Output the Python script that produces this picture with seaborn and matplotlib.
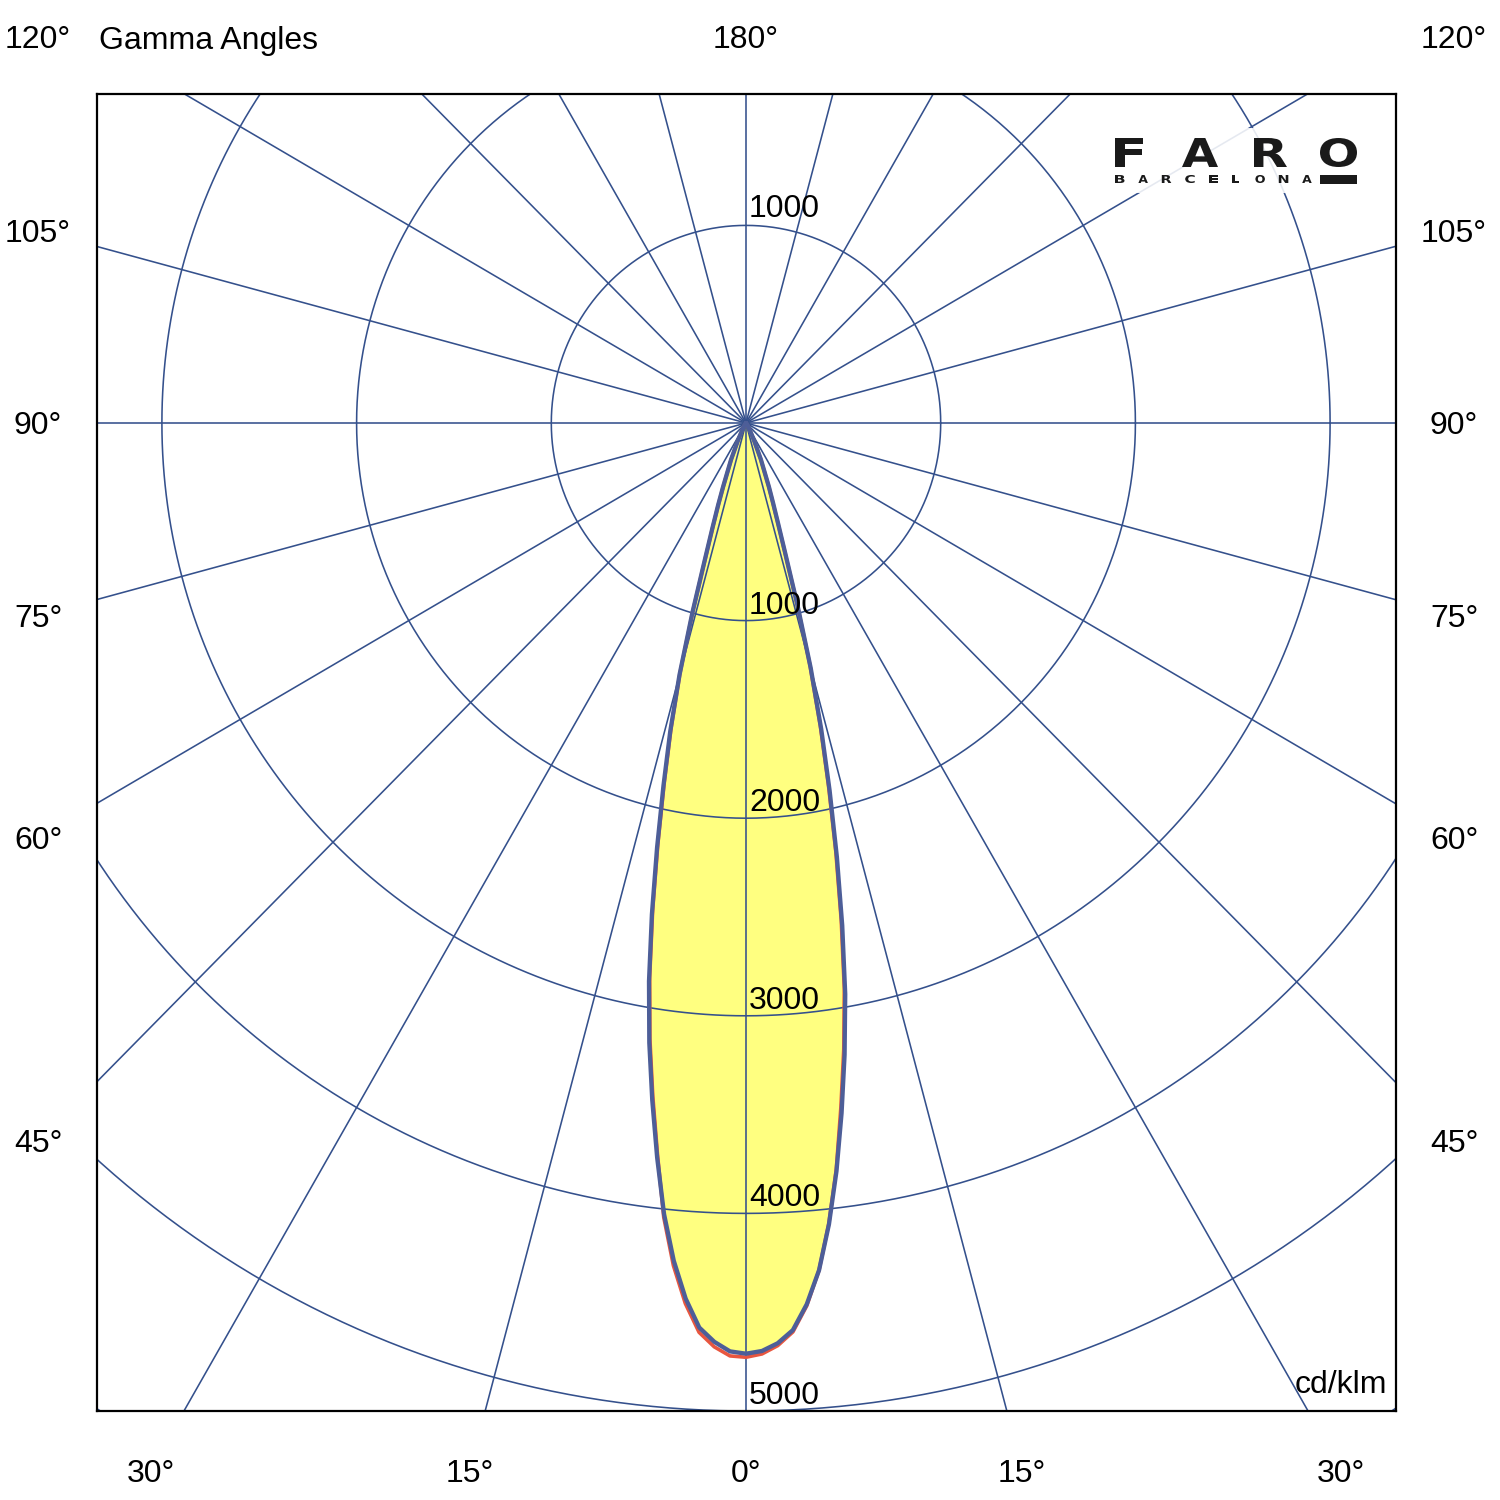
import numpy as np
import pandas as pd
import matplotlib
matplotlib.use('Agg')
import matplotlib.pyplot as plt
import seaborn as sns
from matplotlib.textpath import TextPath
from matplotlib.patches import PathPatch
from matplotlib.font_manager import FontProperties
from matplotlib.transforms import Affine2D

# gamma angles (deg) and intensities (cd/klm) for the four half planes
gamma = [0, 1, 2, 3, 4, 5, 6, 7, 8, 9, 10, 11, 12, 13, 14, 15, 16, 17, 18, 19, 20,
         22.5, 25, 27.5, 30, 35, 40, 50, 60, 90, 120, 150, 180]
c0 = [4710, 4697, 4660, 4597, 4471, 4304, 4077, 3814, 3527, 3237, 2935, 2590, 2245, 1909,
      1597, 1285, 960, 690, 530, 425, 345, 200, 100, 50, 25, 10, 5, 2, 0, 0, 0, 0, 0]
c180 = [4710, 4699, 4653, 4584, 4442, 4256, 4026, 3745, 3460, 3175, 2869, 2533, 2197, 1885,
        1608, 1320, 1000, 720, 555, 440, 345, 200, 100, 50, 25, 10, 5, 2, 0, 0, 0, 0, 0]
c90 = [4728, 4712, 4672, 4606, 4478, 4304, 4072, 3805, 3500, 3210, 2908, 2563, 2220, 1885,
       1575, 1270, 950, 680, 520, 415, 340, 195, 98, 48, 24, 10, 5, 2, 0, 0, 0, 0, 0]
c270 = [4728, 4722, 4678, 4608, 4467, 4280, 4042, 3730, 3440, 3155, 2849, 2513, 2177, 1865,
        1590, 1308, 990, 710, 548, 434, 340, 195, 98, 48, 24, 10, 5, 2, 0, 0, 0, 0, 0]

rings = [1000, 2000, 3000, 4000, 5000, 6000]
ring_labels_down = [1000, 2000, 3000, 4000, 5000]
ring_labels_up = [1000]
side_ticks = [45, 60, 75, 90, 105, 120]
bottom_ticks = [0, 15, 30]

grid_col = '#34508c'
blue_col = '#4d5e98'
red_col = '#e8563f'
fill_col = '#ffff80'
ink = '#1a1a1a'

sns.set_style('white')
plt.rcParams['font.family'] = ['Liberation Sans', 'DejaVu Sans']
plt.rcParams['text.color'] = 'black'

PXX = 0.1947  # pixels per unit, horizontal
PXY = 0.1976  # pixels per unit, vertical
CX, CY = 746, 423  # centre in pixels


def ux(px):
    return px / PXX


def uy(px):
    return px / PXY


def half_plane(g, vals, side):
    g = np.radians(np.array(g, dtype=float))
    v = np.array(vals, dtype=float)
    return side * v * np.sin(g), -v * np.cos(g)


def loop(left_vals, right_vals):
    xl, yl = half_plane(gamma, left_vals, -1)
    xr, yr = half_plane(gamma, right_vals, 1)
    x = np.concatenate([xl[::-1], xr[1:]])
    y = np.concatenate([yl[::-1], yr[1:]])
    return pd.DataFrame({'x': x, 'y': y})


df_blue = loop(c180, c0)
df_red = loop(c270, c90)

fig = plt.figure(figsize=(15, 15), dpi=100)
ax = fig.add_axes([97 / 1500, 1 - 1411 / 1500, 1299 / 1500, 1317 / 1500])
ax.set_xlim(ux(97 - CX), ux(1396 - CX))
ax.set_ylim(uy(CY - 1411), uy(CY - 94))

# fill of the distribution
ax.fill(df_blue['x'], df_blue['y'], color=fill_col, zorder=1, lw=0)

# polar grid
t = np.linspace(0, 2 * np.pi, 721)
for r in rings:
    ax.plot(r * np.cos(t), r * np.sin(t), color=grid_col, lw=1.15, zorder=2)
for a in range(0, 360, 15):
    ar = np.radians(a)
    ax.plot([0, 9000 * np.sin(ar)], [0, -9000 * np.cos(ar)], color=grid_col, lw=1.15, zorder=2)

# curves
sns.lineplot(data=df_red, x='x', y='y', sort=False, estimator=None, color=red_col,
             lw=2.6, ax=ax, zorder=3)
sns.lineplot(data=df_blue, x='x', y='y', sort=False, estimator=None, color=blue_col,
             lw=3.1, ax=ax, zorder=4)

fs = 23
for v in ring_labels_down:
    ax.text(ux(3), -v + uy(7), str(v), fontsize=fs, ha='left', va='baseline', zorder=6)
for v in ring_labels_up:
    ax.text(ux(3), v + uy(8), str(v), fontsize=fs, ha='left', va='baseline', zorder=6)


def label(xp, yp, s, ha='center'):
    # xp, yp: pixel offsets of the text centre from the diagram centre
    ax.text(ux(xp), uy(yp - 11.5), s, fontsize=fs, ha=ha, va='baseline', clip_on=False)


# angle labels
for g in side_ticks:
    gr = np.radians(g)
    yp = 0 if g == 90 else min(-718 / np.tan(gr), 386)
    for s in (-1, 1):
        label(s * 708, yp, '%d°' % g)
for g in bottom_ticks:
    gr = np.radians(g)
    for s in ((1,) if g == 0 else (-1, 1)):
        label(s * 1030 * np.tan(gr), -1047, '%d°' % g)
label(0, 386, '180°')
label(99 - CX, 386, 'Gamma Angles', ha='left')
ax.text(ux(1387 - CX), uy(CY - 1393), 'cd/klm', fontsize=fs, ha='right', va='baseline',
        zorder=6)

# logo
ax.add_patch(plt.Rectangle((ux(1105 - CX), uy(CY - 193)), ux(260), uy(65),
                           facecolor='white', edgecolor='none', alpha=0.88, zorder=5))
fp = FontProperties(family='DejaVu Sans', weight='bold')


def glyph(ch, x0, x1, y0, y1):
    tp = TextPath((0, 0), ch, size=1, prop=fp)
    ext = tp.get_extents()
    tr = (Affine2D().translate(-ext.x0, -ext.y0)
          .scale(ux(x1 - x0) / ext.width, uy(y1 - y0) / ext.height)
          .translate(ux(x0 - CX), uy(CY - y1)))
    ax.add_patch(PathPatch(tr.transform_path(tp), fc=ink, ec='none', zorder=6))


for ch, (x0, x1) in zip('FARO', [(1115, 1143), (1182, 1218), (1254, 1287), (1320, 1357)]):
    glyph(ch, x0, x1, 138, 167)
for i, ch in enumerate('BARCELONA'):
    x0 = 1115 + i * 23.4
    w = 7 if ch == 'L' else 9.5
    glyph(ch, x0, x0 + w, 175, 183)
ax.add_patch(plt.Rectangle((ux(1320 - CX), uy(CY - 184)), ux(37), uy(9),
                           facecolor=ink, edgecolor='none', zorder=6))

ax.set_xlabel('')
ax.set_ylabel('')
ax.set_xticks([])
ax.set_yticks([])
for sp in ax.spines.values():
    sp.set_color('black')
    sp.set_linewidth(1.6)
    sp.set_zorder(7)

fig.savefig('out.png', dpi=100)
